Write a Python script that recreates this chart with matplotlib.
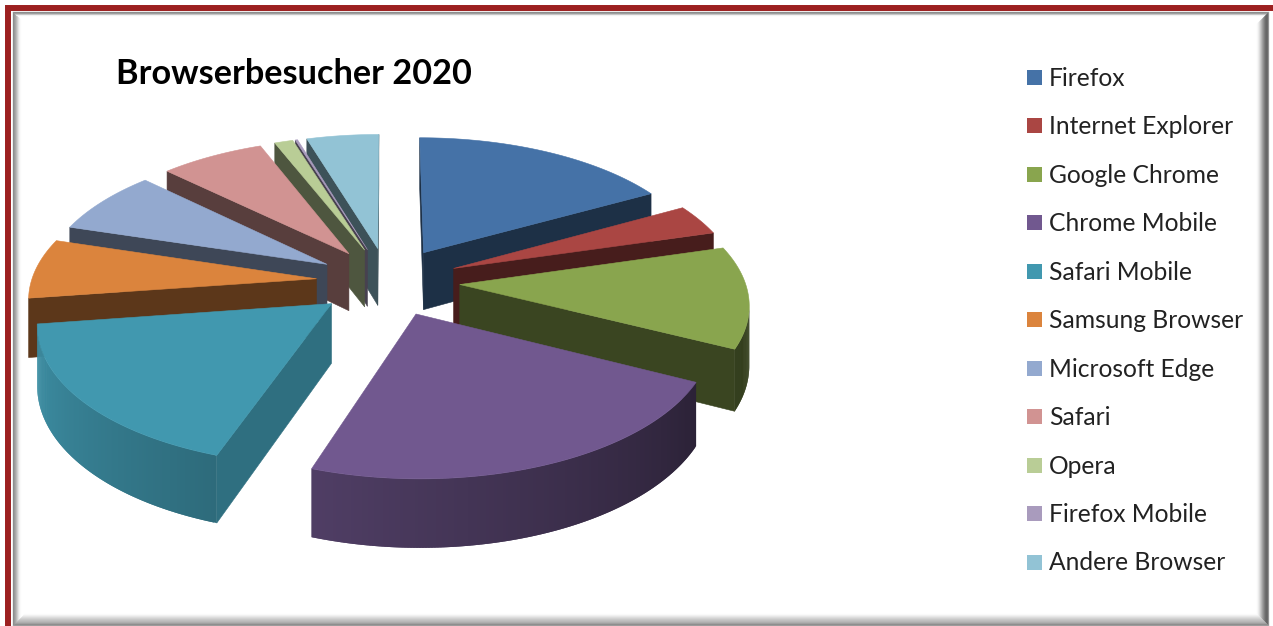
import numpy as np
import matplotlib
matplotlib.use("Agg")
import matplotlib.pyplot as plt
from matplotlib.colors import to_rgb
from matplotlib.patches import Polygon, Rectangle

browsers = ["Firefox", "Internet Explorer", "Google Chrome", "Chrome Mobile", "Safari Mobile",
            "Samsung Browser", "Microsoft Edge", "Safari", "Opera", "Firefox Mobile", "Andere Browser"]
shares = [17.0, 3.6, 11.9, 22.95, 17.55, 7.0, 7.5, 6.8, 1.2, 0.15, 4.7]
colors = ["#4572a7", "#aa4643", "#89a54e", "#71588f", "#4198af", "#db843d",
          "#93a9cf", "#d19392", "#b9cd96", "#a99bbd", "#92c3d5"]
title = "Browserbesucher 2020"

W, H = 1273, 626
# fake 3d camera, in pixels of the figure
CX, CY = 388, 281.4
F, D, TILT = 2310, 8.1, 0.476
THICK = 0.205
EXPLODE = 0.252


def project(x, y, z):
    w = D - y
    return CX + F * x / w, CY + (TILT * y + z) * F / w


def rim(ang):
    a = np.radians(ang)
    return np.sin(a), -np.cos(a)


def area(pts):
    p = np.array(pts)
    q = np.roll(p, -1, axis=0)
    return 0.5 * np.sum(p[:, 0] * q[:, 1] - q[:, 0] * p[:, 1])


def shade(c, f):
    return tuple(v * f for v in to_rgb(c))


def face(ax, pts, c, lw=0.4):
    ax.add_patch(Polygon(pts, closed=True, facecolor=c, edgecolor=c if lw else "none", lw=lw))


def draw_slice(ax, start, end, color):
    mid = (start + end) / 2
    ox, oy = rim(mid)
    ox, oy = ox * EXPLODE, oy * EXPLODE
    angs = np.linspace(start, end, max(int(end - start) * 2, 3))
    step = angs[1] - angs[0]

    def pt(ang, z):
        rx, ry = rim(ang)
        return project(ox + rx, oy + ry, z)

    apex_t, apex_b = project(ox, oy, 0), project(ox, oy, THICK)

    # radial walls
    wall = [apex_t, pt(start, 0), pt(start, THICK), apex_b]
    if area(wall) < 0:
        nx = -np.cos(np.radians(start))
        face(ax, wall, shade(color, 0.73 if nx > 0.5 else 0.42))
    wall = [apex_t, pt(end, 0), pt(end, THICK), apex_b]
    if area(wall) > 0:
        face(ax, wall, shade(color, 0.42))

    # outer wall, cut in strips for the gradient, each one overlaps the next to hide the seams
    for a, b in zip(angs[:-1], angs[1:]):
        quad = [pt(a, 0), pt(b, 0), pt(b, THICK), pt(a, THICK)]
        if area(quad) < 0:
            f = np.interp((a + b) / 2, [60, 116, 198, 262, 262.1, 360], [0.42, 0.38, 0.7, 0.95, 0.42, 0.42])
            b2 = min(b + step, end)
            face(ax, [pt(a, 0), pt(b2, 0), pt(b2, THICK), pt(a, THICK)], shade(color, f), lw=0)

    face(ax, [apex_t] + [pt(a, 0) for a in angs], color)


def bevel(ax, x0, y0, x1, y1, left, top, right, bottom):
    # one strip per pixel on each side, mitred at the corners
    for side, grays in (("l", left), ("t", top), ("r", right), ("b", bottom)):
        for i, g in enumerate(grays):
            a0, b0, a1, b1 = x0 + i, y0 + i, x1 - i, y1 - i
            if side == "l":
                pts = [(a0, b0), (a0 + 1, b0 + 1), (a0 + 1, b1 - 1), (a0, b1)]
            elif side == "t":
                pts = [(a0, b0), (a1, b0), (a1 - 1, b0 + 1), (a0 + 1, b0 + 1)]
            elif side == "r":
                pts = [(a1, b0), (a1, b1), (a1 - 1, b1 - 1), (a1 - 1, b0 + 1)]
            else:
                pts = [(a0, b1), (a1, b1), (a1 - 1, b1 - 1), (a0 + 1, b1 - 1)]
            c = str(g)
            ax.add_patch(Polygon(pts, closed=True, facecolor=c, edgecolor=c, lw=0.2))


fig = plt.figure(figsize=(W / 100, H / 100), dpi=100)
ax = fig.add_axes([0, 0, 1, 1])
ax.set_xlim(0, W)
ax.set_ylim(H, 0)
ax.axis("off")

# frame
ax.add_patch(Rectangle((8, 7.5), W, H, facecolor="white", edgecolor="#9c2020", lw=4.3))
bevel(ax, 13, 12, 1269, 626,
      [0.55, 0.6, 0.65, 0.72, 0.8, 0.88, 0.94, 0.98],
      [0.55, 0.6, 0.75, 0.95],
      [0.6, 0.42, 0.4, 0.42, 0.48, 0.55, 0.62, 0.7, 0.78, 0.86, 0.92, 0.97],
      [0.62, 0.55, 0.62, 0.68, 0.72, 0.75, 0.78, 0.82, 0.86, 0.9, 0.94, 0.98])

# pie
total = sum(shares)
ends = np.cumsum(shares) / total * 360
starts = ends - np.array(shares) / total * 360
mids = (starts + ends) / 2
for i in np.argsort(-np.cos(np.radians(mids))):
    draw_slice(ax, starts[i], ends[i], colors[i])

ax.text(116.5, 74.5, title, fontsize=24.7, fontweight="bold", family="Lato", color="black", va="center", ha="left")

# legend
for i, name in enumerate(browsers):
    y = 77.5 + i * 48.45
    ax.add_patch(Rectangle((1027, y - 7.5), 15, 15, facecolor=colors[i], edgecolor="none"))
    ax.text(1049, y + 1, name, fontsize=17.7, family="Lato", color="#222222", va="center", ha="left")

fig.savefig("out.png", dpi=100)
